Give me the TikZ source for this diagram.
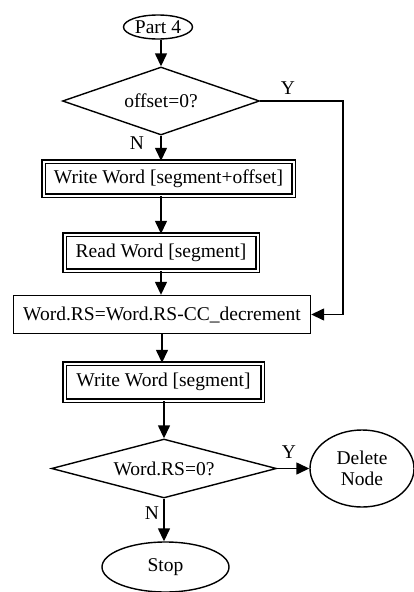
\documentclass[tikz,border=0pt]{standalone}
\usepackage{fontspec}
\setmainfont{Liberation Serif}
\usetikzlibrary{shapes.geometric,arrows.meta}
\begin{document}
\begin{tikzpicture}[x=1pt,y=-1pt,
  every node/.style={font=\fontsize{19.5}{22}\selectfont, inner sep=0pt},
  line/.style={line width=1.4pt},
  arr/.style={line, -{Triangle[length=13pt,width=12pt]}},
  term/.style={ellipse, draw, line width=1.4pt},
  decide/.style={diamond, draw, line width=1.4pt},
  proc/.style={rectangle, draw, line width=1.4pt},
  dproc/.style={rectangle, draw, double, double distance=2pt, line width=1.4pt},
  lbl/.style={font=\fontsize{19.5}{22}\selectfont}
]
\useasboundingbox (0,0) rectangle (413,592);

% nodes
\node[term, minimum width=69pt, minimum height=24pt] (part) at (158,27) {Part 4};
\node[decide, minimum width=197pt, minimum height=68pt, aspect=2.9] (d1) at (161,101) {offset=0?};
\node[dproc, minimum width=250pt, minimum height=34pt] (w1) at (168.5,178.5) {Write Word [segment+offset]};
\node[dproc, minimum width=193pt, minimum height=36pt] (r1) at (161,252.5) {Read Word [segment]};
\node[proc, minimum width=297pt, minimum height=38pt] (dec) at (162,314.5) {Word.RS=Word.RS-CC\_decrement};
\node[dproc, minimum width=198pt, minimum height=37pt] (w2) at (163.5,382) {Write Word [segment]};
\node[decide, minimum width=225pt, minimum height=59pt, aspect=3.8] (d2) at (164,468.5) {Word.RS=0?};
\node[term, minimum width=104pt, minimum height=77pt, align=center] (del) at (362,468.5) {Delete\\[-1pt]Node};
\node[term, minimum width=127pt, minimum height=50pt] (stop) at (165.5,567) {Stop};

% branch labels
\node[lbl] (y1) at (288,88) {Y};
\node[lbl] (n1) at (137,143) {N};
\node[lbl] (y2) at (289,452) {Y};
\node[lbl] (n2) at (152,513) {N};

% connectors
\coordinate (rail) at (343,0);
\draw[arr] (d1.north |- part.south) -- (d1.north);
\draw[arr] (d1.south) -- (d1.south |- w1.north);
\draw[arr] (r1.north |- w1.south) -- (r1.north);
\draw[arr] (r1.south) -- (r1.south |- dec.north);
\draw[arr] (dec.south) -- (dec.south |- w2.north);
\draw[arr] (d2.north |- w2.south) -- (d2.north);
\draw[arr] (d1.east) -| (rail |- dec.east) -- (dec.east);
\draw[arr] (d2.east) -- (del.west);
\draw[arr] (d2.south) -- (d2.south |- stop.north);
\end{tikzpicture}
\end{document}
